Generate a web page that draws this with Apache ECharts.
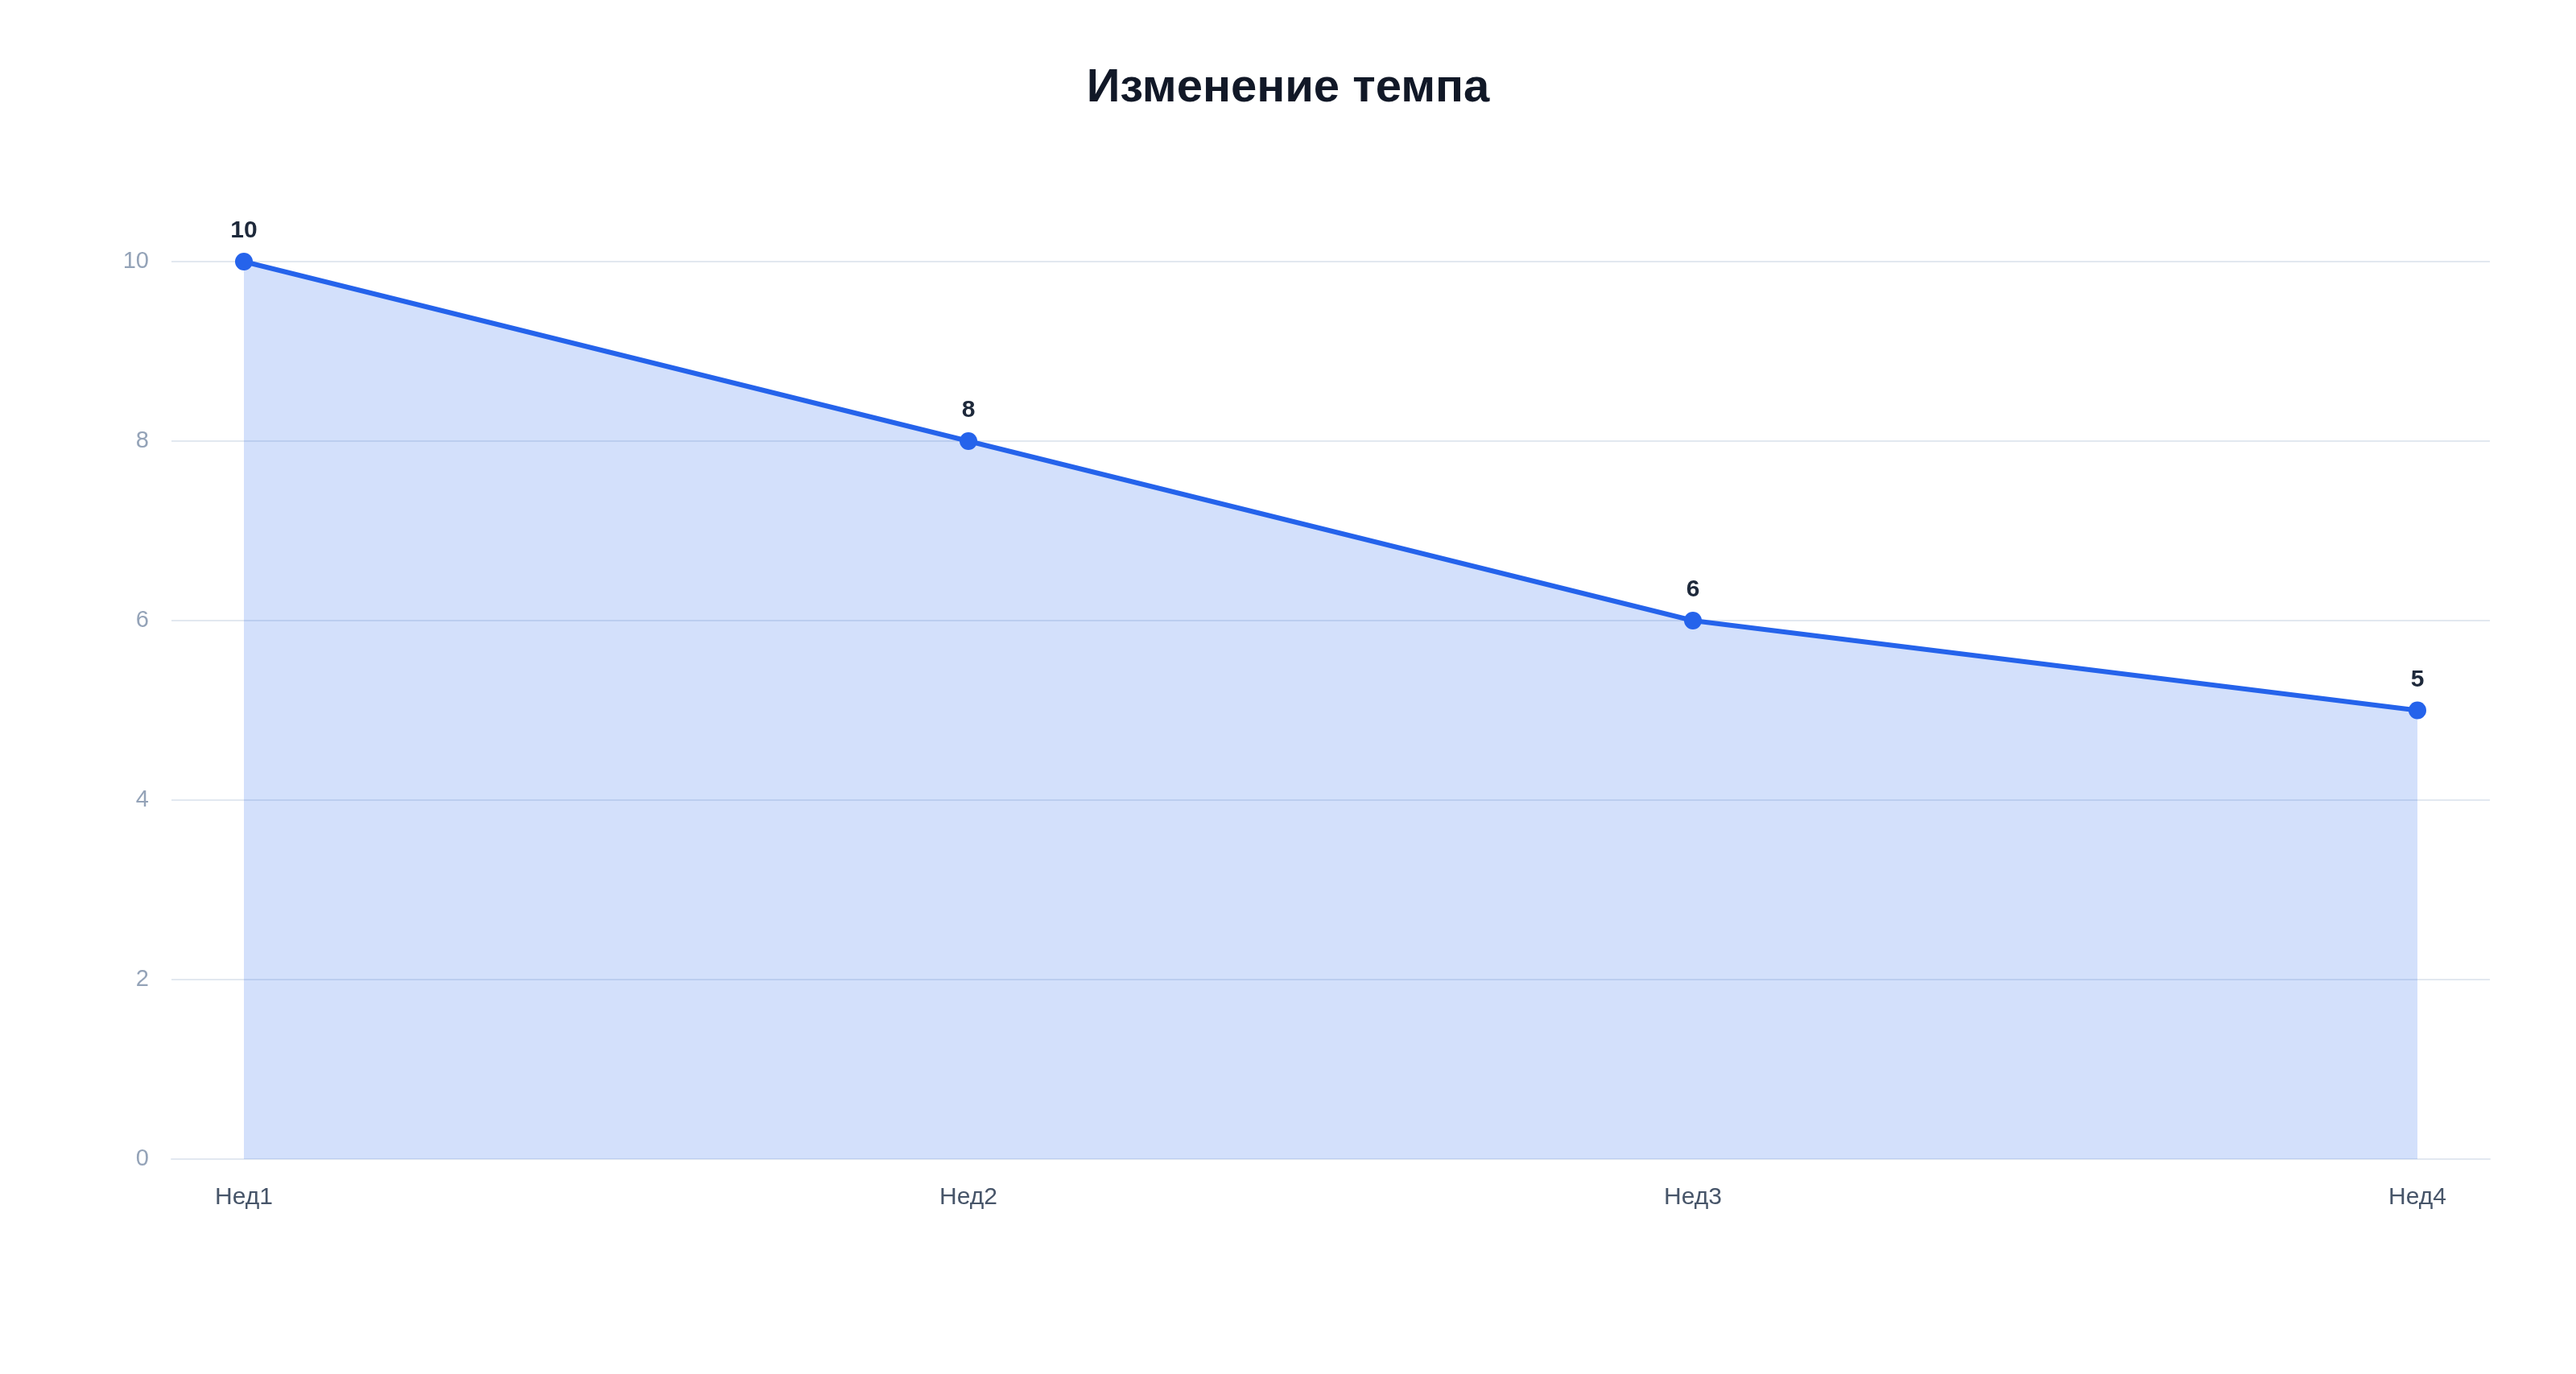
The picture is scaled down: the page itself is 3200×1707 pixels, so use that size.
<!DOCTYPE html>
<html>
<head>
<meta charset="utf-8">
<script src="https://cdn.jsdelivr.net/npm/echarts@6/dist/echarts.min.js"></script>
<style>
html,body{margin:0;padding:0;background:#fff;}
#chart{width:3200px;height:1707px;}
</style>
</head>
<body>
<div id="chart"></div>
<script>
const titleText = 'Изменение темпа';
const categories = ['Нед1', 'Нед2', 'Нед3', 'Нед4'];
const values = [10, 8, 6, 5];
const yTicks = [0, 2, 4, 6, 8, 10];

const chart = echarts.init(document.getElementById('chart'), null, {renderer: 'canvas'});
const FONT = '"Liberation Sans", Arial, Helvetica, sans-serif';
const yMin = yTicks[0], yMax = yTicks[yTicks.length - 1], yStep = yTicks[1] - yTicks[0];

chart.setOption({
  backgroundColor: '#ffffff',
  animation: false,
  title: {
    text: titleText,
    left: 'center',
    top: 76,
    textStyle: {fontFamily: FONT, fontSize: 58, fontWeight: 'bold', color: '#111827'}
  },
  grid: [
    {left: 213, right: 107, top: 325, bottom: 267, containLabel: false},
    {left: 303, right: 197, top: 325, bottom: 267, containLabel: false}
  ],
  xAxis: [
    {gridIndex: 0, type: 'category', data: categories, show: true,
     axisLine: {show: true, lineStyle: {color: '#e2e8f0', width: 2}},
     axisTick: {show: false}, axisLabel: {show: false}, splitLine: {show: false}},
    {gridIndex: 1, type: 'category', data: categories, boundaryGap: false,
     axisLine: {show: false}, axisTick: {show: false},
     axisLabel: {fontFamily: FONT, fontSize: 30, color: '#475569', margin: 33},
     splitLine: {show: false}}
  ],
  yAxis: [
    {gridIndex: 0, type: 'value', min: yMin, max: yMax, interval: yStep,
     axisLine: {show: false}, axisTick: {show: false},
     axisLabel: {fontFamily: FONT, fontSize: 29, color: '#94a3b8', margin: 28},
     splitLine: {show: true, lineStyle: {color: '#e2e8f0', width: 2}}},
    {gridIndex: 1, type: 'value', min: yMin, max: yMax, interval: yStep, show: false,
     splitLine: {show: false}}
  ],
  series: [{
    type: 'line',
    xAxisIndex: 1,
    yAxisIndex: 1,
    data: values,
    symbol: 'circle',
    symbolSize: 22,
    itemStyle: {color: '#2563eb'},
    lineStyle: {color: '#2563eb', width: 6},
    areaStyle: {color: 'rgba(37,99,235,0.2)', opacity: 1},
    label: {
      show: true, position: 'top', distance: 12,
      fontFamily: FONT, fontSize: 30, fontWeight: 'bold', color: '#1e293b'
    }
  }]
});
</script>
</body>
</html>
